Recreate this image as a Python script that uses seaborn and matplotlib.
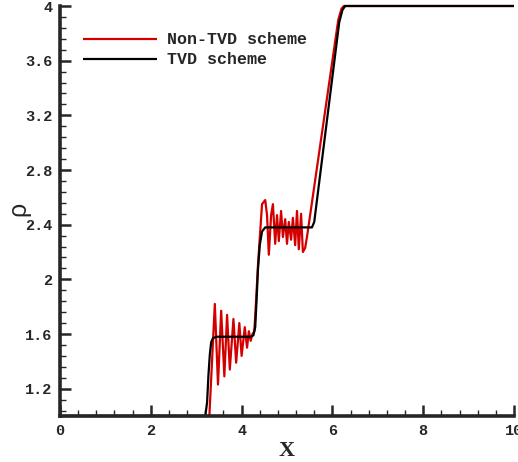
import numpy as np
import pandas as pd
import matplotlib
matplotlib.use("Agg")
import matplotlib.pyplot as plt
import seaborn as sns
from matplotlib.ticker import MultipleLocator

# ---- data ----
tvd_x = [0.0, 3.20, 3.24, 3.27, 3.30, 3.33, 3.37, 3.45, 4.20, 4.26, 4.30, 4.33,
         4.36, 4.40, 4.45, 4.52, 5.55, 5.60, 6.15, 6.22, 6.28, 6.35, 10.0]
tvd_rho = [1.0, 1.0, 1.10, 1.30, 1.45, 1.54, 1.57, 1.58, 1.58, 1.59, 1.65, 1.85,
           2.07, 2.25, 2.35, 2.38, 2.38, 2.42, 3.88, 3.97, 4.0, 4.0, 4.0]

ntvd_x = [0.0, 3.26, 3.29, 3.41, 3.48, 3.55, 3.62, 3.68, 3.74, 3.82, 3.88, 3.95,
          4.00, 4.07, 4.12, 4.16, 4.20, 4.24, 4.28, 4.32, 4.36, 4.40,
          4.45, 4.52, 4.56, 4.60, 4.65, 4.69, 4.74, 4.78, 4.82, 4.87, 4.91,
          4.96, 5.00, 5.04, 5.09, 5.13, 5.18, 5.22, 5.26, 5.31, 5.35, 5.40,
          5.44, 6.13, 6.20, 6.25, 10.0]
ntvd_rho = [1.0, 1.0, 1.0, 1.82, 1.23, 1.77, 1.29, 1.74, 1.34, 1.71, 1.39, 1.68,
            1.44, 1.65, 1.50, 1.62, 1.55, 1.60, 1.62, 1.85, 2.10, 2.30,
            2.55, 2.58, 2.47, 2.18, 2.47, 2.55, 2.26, 2.47, 2.28, 2.50, 2.31,
            2.44, 2.26, 2.42, 2.29, 2.45, 2.25, 2.50, 2.22, 2.48, 2.20, 2.23,
            2.31, 3.90, 3.98, 4.0, 4.0]

series_labels = ["Non-TVD scheme", "TVD scheme"]
x_ticks = [0, 2, 4, 6, 8, 10]
y_ticks = [1.2, 1.6, 2.0, 2.4, 2.8, 3.2, 3.6, 4.0]
y_tick_labels = ["1.2", "1.6", "2", "2.4", "2.8", "3.2", "3.6", "4"]

df = pd.concat([
    pd.DataFrame({"x": ntvd_x, "rho": ntvd_rho, "scheme": series_labels[0]}),
    pd.DataFrame({"x": tvd_x, "rho": tvd_rho, "scheme": series_labels[1]}),
], ignore_index=True)

sns.set_style("ticks")
mono = "Liberation Mono"

fig = plt.figure(figsize=(5.18, 4.62), dpi=100)
ax = fig.add_axes([60 / 518, 1 - 416 / 462, 454 / 518, 410 / 462])

sns.lineplot(data=df, x="x", y="rho", hue="scheme", sort=False, estimator=None,
             palette={series_labels[0]: "#d40000", series_labels[1]: "black"},
             linewidth=1.6, ax=ax)

ax.set_xlim(0, 10)
ax.set_ylim(1.0, 4.0)
for ln in ax.get_lines():
    ln.set_clip_on(False)
    ln.set_solid_capstyle("butt")
    ln.set_zorder(2)

ax.set_xticks(x_ticks)
ax.set_xticklabels([str(t) for t in x_ticks])
ax.set_yticks(y_ticks)
ax.set_yticklabels(y_tick_labels)
ax.xaxis.set_minor_locator(MultipleLocator(0.4))
ax.yaxis.set_minor_locator(MultipleLocator(0.08))

ax.tick_params(which="major", direction="in", length=8, width=1.8, pad=5.5)
ax.tick_params(which="minor", direction="in", length=4.5, width=1.0)
for lab in ax.get_xticklabels() + ax.get_yticklabels():
    lab.set_fontfamily(mono)
    lab.set_fontweight("bold")
    lab.set_fontsize(11)

for s in ["top", "right"]:
    ax.spines[s].set_visible(False)
for s in ["left", "bottom"]:
    ax.spines[s].set_linewidth(2.6)
    ax.spines[s].set_zorder(5)

ax.set_xlabel("X", fontfamily="Liberation Serif", fontweight="bold", fontsize=16)
ax.xaxis.set_label_coords(0.5, -0.062)
ax.set_ylabel("ρ", fontfamily="Liberation Sans", fontsize=18)
ax.yaxis.set_label_coords(-0.066, 0.505)

leg = ax.legend(loc="upper left", bbox_to_anchor=(0.018, 0.972), frameon=False,
                handlelength=4.4, handletextpad=0.65, labelspacing=0.3,
                prop={"family": mono, "weight": "bold", "size": 12})
for h in leg.get_lines():
    h.set_linewidth(1.6)

fig.savefig("out.png", dpi=100)
